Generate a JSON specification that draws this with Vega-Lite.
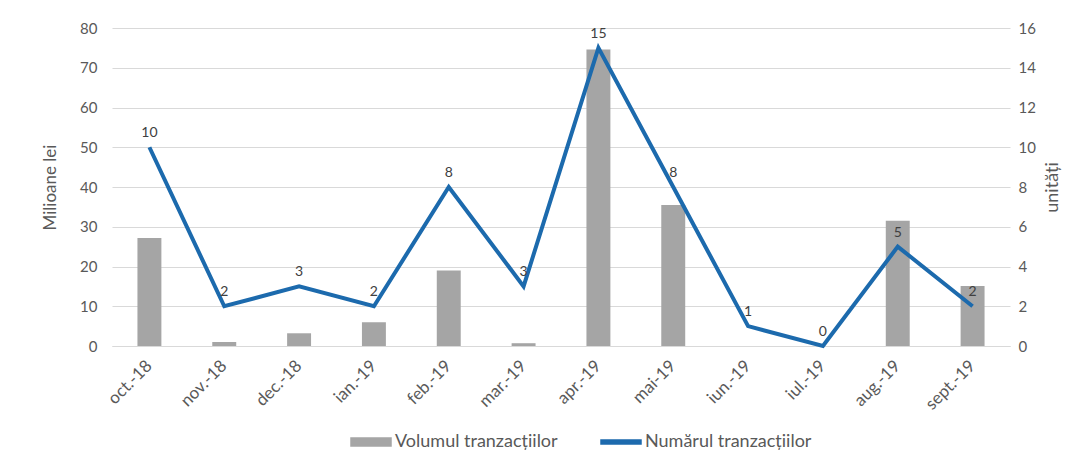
{
  "$schema": "https://vega.github.io/schema/vega-lite/v6.json",
  "autosize": "none",
  "width": 898,
  "height": 318,
  "padding": {"left": 112, "top": 28, "right": 67, "bottom": 116},
  "background": "white",
  "config": {
    "view": {"stroke": null},
    "font": "Lato",
    "axis": {"labelFont": "Lato", "titleFont": "Lato", "labelColor": "#595959", "titleColor": "#595959", "labelFontSize": 15, "titleFontSize": 17, "titleFontWeight": "normal"}
  },
  "data": {
    "values": [
      {"luna": "oct.-18", "volum": 27.2, "numar": 10},
      {"luna": "nov.-18", "volum": 1.0, "numar": 2},
      {"luna": "dec.-18", "volum": 3.2, "numar": 3},
      {"luna": "ian.-19", "volum": 6.0, "numar": 2},
      {"luna": "feb.-19", "volum": 19.0, "numar": 8},
      {"luna": "mar.-19", "volum": 0.7, "numar": 3},
      {"luna": "apr.-19", "volum": 74.6, "numar": 15},
      {"luna": "mai-19", "volum": 35.5, "numar": 8},
      {"luna": "iun.-19", "volum": 0, "numar": 1},
      {"luna": "iul.-19", "volum": 0, "numar": 0},
      {"luna": "aug.-19", "volum": 31.5, "numar": 5},
      {"luna": "sept.-19", "volum": 15.1, "numar": 2}
    ]
  },
  "encoding": {
    "x": {
      "field": "luna", "type": "nominal", "sort": null,
      "scale": {"type": "band", "paddingInner": 0, "paddingOuter": 0},
      "axis": {"title": null, "labelAngle": -45, "labelAlign": "right", "labelBaseline": "middle", "labelPadding": 17, "ticks": false, "domainColor": "#d9d9d9", "labelFontSize": 17}
    }
  },
  "layer": [
    {
      "mark": {"type": "bar", "width": {"band": 0.32}, "color": "#a5a5a5"},
      "encoding": {
        "y": {
          "field": "volum", "type": "quantitative",
          "scale": {"domain": [0, 80], "nice": false},
          "axis": {"title": "Milioane lei", "orient": "left", "values": [0,10,20,30,40,50,60,70,80], "grid": true, "gridColor": "#d9d9d9", "domain": false, "ticks": false, "labelPadding": 15, "titlePadding": 20}
        },
        "color": {
          "datum": "Volumul tranzacțiilor", "type": "nominal",
          "scale": {"domain": ["Volumul tranzacțiilor", "Numărul tranzacțiilor"], "range": ["#a5a5a5", "#1c6aad"]},
          "legend": {
            "title": null, "orient": "none", "direction": "horizontal", "legendX": 238, "legendY": 393,
            "labelFont": "Lato", "labelFontSize": 18, "labelColor": "#595959", "labelLimit": 400, "columnPadding": 40, "labelOffset": 3,
            "symbolSize": 1600,
            "encode": {
              "symbols": {
                "update": {
                  "fill": {"scale": "color", "field": "value"},
                  "stroke": {"value": "transparent"},
                  "opacity": {"value": 1},
                  "shape": {"signal": "datum.value === 'Volumul tranzacțiilor' ? 'M-1,-0.2H1V0.2H-1Z' : 'M-1,-0.1H1V0.1H-1Z'"}
                }
              }
            }
          }
        }
      }
    },
    {
      "encoding": {
        "y": {
          "field": "numar", "type": "quantitative",
          "scale": {"domain": [0, 16], "nice": false},
          "axis": {"title": "unități", "orient": "right", "values": [0,2,4,6,8,10,12,14,16], "grid": false, "domain": false, "ticks": false, "labelPadding": 8, "titlePadding": 26, "titleAngle": 270, "titleFontSize": 18}
        }
      },
      "layer": [
        {
          "mark": {"type": "line", "strokeWidth": 4, "color": "#1c6aad"},
          "encoding": {
            "color": {"datum": "Numărul tranzacțiilor", "type": "nominal"}
          }
        },
        {
          "mark": {"type": "text", "dy": -14, "fontSize": 14, "color": "#404040", "font": "Lato"},
          "encoding": {
            "text": {"field": "numar", "type": "quantitative"}
          }
        }
      ]
    }
  ],
  "resolve": {"scale": {"y": "independent"}}
}
